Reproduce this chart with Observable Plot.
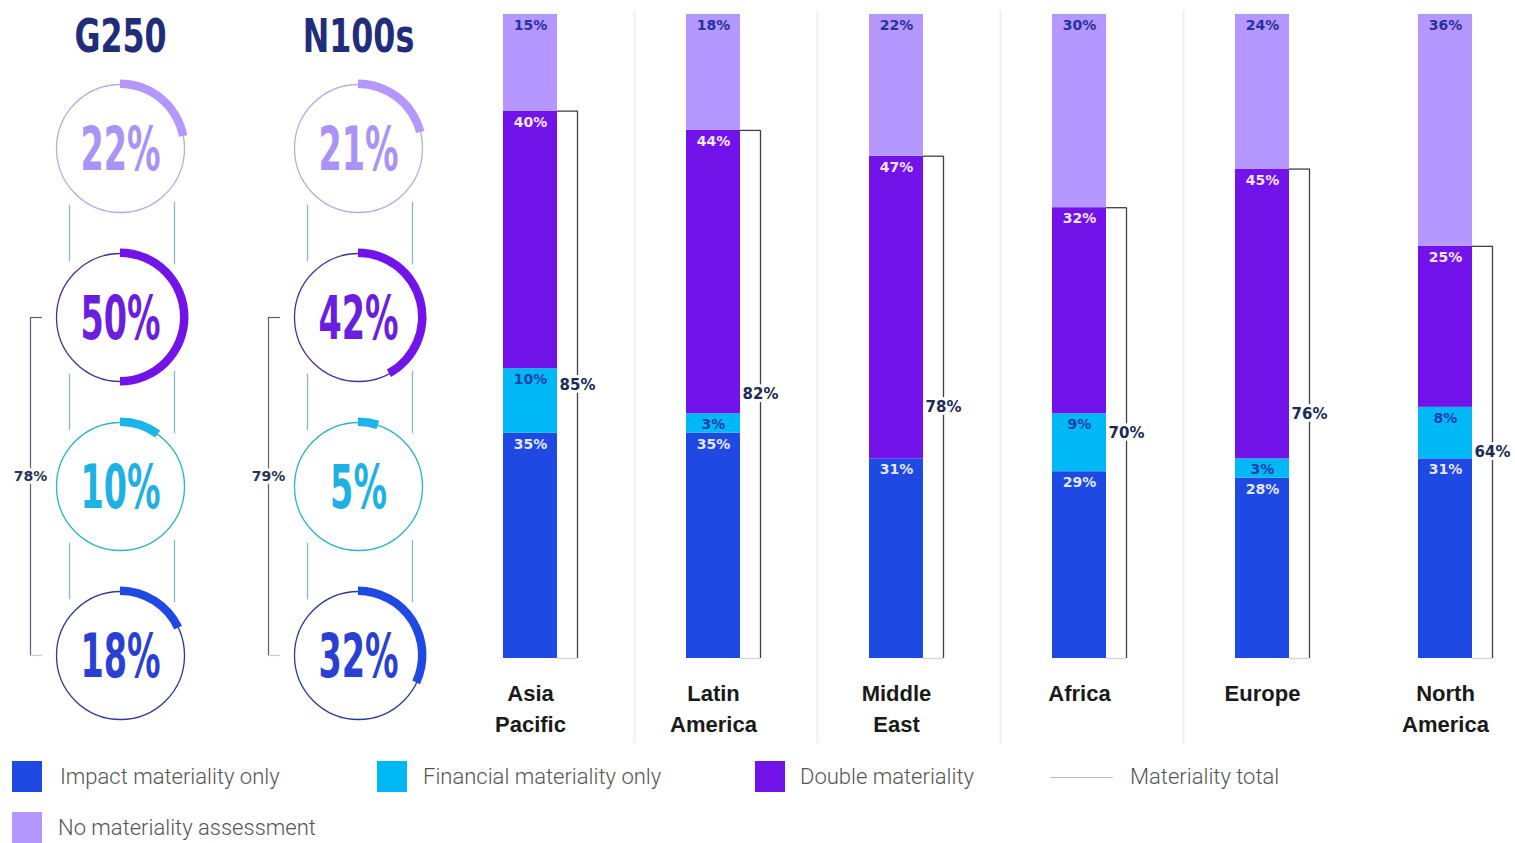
<!DOCTYPE html>
<html>
<head>
<meta charset="utf-8">
<script src="https://cdn.jsdelivr.net/npm/d3@7"></script>
<script src="https://cdn.jsdelivr.net/npm/@observablehq/plot@0.6"></script>
<style>
  html, body { margin: 0; padding: 0; background: #fff; }
  body { width: 1515px; height: 843px; overflow: hidden; position: relative; }
  #charts { display: flex; flex-direction: row; width: 1515px; height: 745px; }
  #legend { position: relative; width: 1515px; height: 98px; font-family: Roboto, "Open Sans", sans-serif; font-weight: 300; font-size: 22px; color: #555; }
  .lg-sw { position: absolute; width: 30px; height: 31px; }
  .lg-tx { position: absolute; line-height: 31px; white-space: nowrap; }
  .lg-line { position: absolute; height: 0; border-top: 1.5px solid #b9bcc4; }
</style>
</head>
<body>
<div id="charts"><div id="left"></div><div id="right"></div></div>
<div id="legend"></div>
<script>
// ---------- data ----------
const categories = ["impact", "financial", "double", "none"];
const categoryLabels = ["Impact materiality only", "Financial materiality only", "Double materiality", "No materiality assessment"];
const colors = ["#1e49e2", "#00b8f5", "#7213ea", "#b497ff"];
const segmentLabelColors = ["#e4e6ff", "#1f3fae", "#f4e6ff", "#28319c"];

const regions = ["Asia Pacific", "Latin America", "Middle East", "Africa", "Europe", "North America"];
const regionLabels = ["Asia\nPacific", "Latin\nAmerica", "Middle\nEast", "Africa", "Europe", "North\nAmerica"];
const impactOnly = [35, 35, 31, 29, 28, 31];
const financialOnly = [10, 3, 0, 9, 3, 8];
const doubleMateriality = [40, 44, 47, 32, 45, 25];
const noAssessment = [15, 18, 22, 30, 24, 36];
const regionTotals = [85, 82, 78, 70, 76, 64];

const groups = ["G250", "N100s"];
const circleOrder = ["none", "double", "financial", "impact"];
const groupNone = [22, 21];
const groupDouble = [50, 42];
const groupFinancial = [10, 5];
const groupImpact = [18, 32];
const groupTotals = [78, 79];

const arcColors = {none: "#b497ff", double: "#7213ea", financial: "#1cb4ea", impact: "#1e49e2"};
const outlineColors = {none: "#b9abe6", double: "#4d2f93", financial: "#2bb3c9", impact: "#2b3a9c"};
const circleTextColors = {none: "#ab92f6", double: "#6a1fe0", financial: "#1fb0e4", impact: "#2a40d2"};

// ---------- tables ----------
const seriesByCategory = {impact: impactOnly, financial: financialOnly, double: doubleMateriality, none: noAssessment};
const rows = regions.flatMap((r, i) => categories.map(c => ({region: r, category: c, value: seriesByCategory[c][i]})));
const totalsData = regions.map((r, i) => ({region: r, total: regionTotals[i]}));

const groupSeries = {none: groupNone, double: groupDouble, financial: groupFinancial, impact: groupImpact};
const circles = groups.flatMap((g, i) => circleOrder.map(c => ({group: g, category: c, value: groupSeries[c][i]})));
const bracketData = groups.map((g, i) => ({group: g, from: "double", to: "impact", mid: "financial", total: groupTotals[i]}));

// ---------- left panel: G250 / N100s circles ----------
const left = Plot.plot({
  width: 470, height: 745,
  marginLeft: 120, marginRight: 112, marginTop: 148, marginBottom: 90,
  x: {type: "point", domain: groups, padding: 0, axis: null},
  y: {type: "point", domain: circleOrder, padding: 0, axis: null},
  style: {background: "white", overflow: "visible"},
  marks: [
    Plot.ruleX(groups, {x: d => d, dx: -51, stroke: "#86b9c2", strokeWidth: 1.3, insetTop: 40, insetBottom: 40}),
    Plot.ruleX(groups, {x: d => d, dx: 54, stroke: "#86b9c2", strokeWidth: 1.3, insetTop: 40, insetBottom: 40}),
    Plot.dot(circles, {x: "group", y: "category", r: 76, fill: "white"}),
    Plot.dot(circles, {x: "group", y: "category", r: 64, fill: "white", stroke: d => outlineColors[d.category], strokeWidth: 1.3}),
    (index, scales) => {
      const g = d3.create("svg:g");
      const arc = d3.arc().innerRadius(60).outerRadius(68.5);
      for (const d of circles) {
        g.append("path")
          .attr("transform", `translate(${scales.x(d.group)},${scales.y(d.category)})`)
          .attr("d", arc({startAngle: 0, endAngle: 2 * Math.PI * d.value / 100}))
          .attr("fill", arcColors[d.category]);
      }
      return g.node();
    },
    Plot.text(circles, {x: "group", y: "category", text: d => d.value + "%", fill: d => circleTextColors[d.category],
      fontSize: 60, fontWeight: "bold", fontFamily: "Liberation Sans Narrow, DejaVu Sans Condensed, sans-serif", dy: 2}),
    Plot.ruleX(bracketData, {x: "group", y1: "from", y2: "to", dx: -90, stroke: "#59606f", strokeWidth: 1.2}),
    Plot.ruleY(bracketData, {y: "from", x1: "group", x2: "group", dx: -90, insetRight: -12, stroke: "#59606f", strokeWidth: 1.2}),
    Plot.ruleY(bracketData, {y: "to", x1: "group", x2: "group", dx: -90, insetRight: -12, stroke: "#c9ccd3", strokeWidth: 1.2}),
    Plot.text(bracketData, {x: "group", y: "mid", dx: -90, dy: -10, text: d => d.total + "%", fill: "#2a3358",
      stroke: "white", strokeWidth: 6, fontSize: 14, fontWeight: "bold", fontFamily: "DejaVu Sans, sans-serif"}),
    Plot.text(groups, {x: d => d, text: d => d, frameAnchor: "top", lineAnchor: "middle", dy: -112, fill: "#1f2d7b",
      fontSize: 47, fontWeight: "bold", fontFamily: "Liberation Sans Narrow, DejaVu Sans Condensed, sans-serif"})
  ]
});
document.getElementById("left").appendChild(left);

// condense the display numerals
d3.select(left).selectAll("g[font-size='60'] text").each(function() {
  const w = this.getComputedTextLength();
  this.setAttribute("textLength", w * 0.62);
  this.setAttribute("lengthAdjust", "spacingAndGlyphs");
});
d3.select(left).selectAll("g[font-size='47'] text").each(function() {
  const w = this.getComputedTextLength();
  this.setAttribute("textLength", w * 0.75);
  this.setAttribute("lengthAdjust", "spacingAndGlyphs");
});

// ---------- right panel: regional stacked bars ----------
const right = Plot.plot({
  width: 1045, height: 745,
  marginLeft: 33, marginRight: 43, marginTop: 14, marginBottom: 87,
  x: {domain: regions, paddingInner: 0.705, paddingOuter: 0, axis: null, label: null},
  y: {domain: [0, 100], axis: null},
  color: {domain: categories, range: colors},
  style: {background: "white", overflow: "visible", fontFamily: "DejaVu Sans, sans-serif"},
  marks: [
    Plot.ruleX(regions.slice(0, 4), {x: d => d, dx: 104, stroke: "#efefef", strokeWidth: 2, insetTop: -4, insetBottom: -85}),
    Plot.barY(rows, {x: "region", y: "value", fill: "category", order: categories}),
    ...categories.map((c, j) => Plot.text(rows, Plot.stackY2({
      x: "region", y: "value", z: "category", order: categories,
      text: d => (d.category === c && d.value > 0) ? d.value + "%" : "",
      fill: segmentLabelColors[j], dy: 11, fontSize: 14, fontWeight: "bold"
    }))),
    Plot.ruleX(totalsData, {x: "region", y1: 0, y2: "total", dx: 47, stroke: "#3d414c", strokeWidth: 1.3}),
    Plot.tickY(totalsData, {x: "region", y: "total", dx: 20, insetLeft: 34, stroke: "#3d414c", strokeWidth: 1.3}),
    Plot.tickY(totalsData, {x: "region", y: 0, dx: 20, insetLeft: 34, stroke: "#cfd3da", strokeWidth: 1.2}),
    Plot.text(totalsData, {x: "region", y: d => d.total / 2, text: d => d.total + "%", dx: 47,
      fill: "#1d2a55", stroke: "white", strokeWidth: 6, fontSize: 15, fontWeight: "bold"}),
    Plot.axisX({tickSize: 0, tickPadding: 20, label: null, tickFormat: d => regionLabels[regions.indexOf(d)],
      fontSize: 22, fontWeight: "bold", lineHeight: 1.41, color: "#1a1a1a",
      fontFamily: "Liberation Sans, Arial, sans-serif"})
  ]
});
document.getElementById("right").appendChild(right);

// ---------- legend ----------
const legend = d3.select("#legend");
const legendItems = [
  {label: categoryLabels[0], color: colors[0], sx: 12, tx: 60, top: 16},
  {label: categoryLabels[1], color: colors[1], sx: 377, tx: 423, top: 16},
  {label: categoryLabels[2], color: colors[2], sx: 755, tx: 800, top: 16},
  {label: categoryLabels[3], color: colors[3], sx: 12, tx: 58, top: 67}
];
for (const it of legendItems) {
  legend.append("div").attr("class", "lg-sw").style("left", it.sx + "px").style("top", it.top + "px").style("background", it.color);
  legend.append("div").attr("class", "lg-tx").style("left", it.tx + "px").style("top", it.top + "px").text(it.label);
}
legend.append("div").attr("class", "lg-line").style("left", "1050px").style("width", "63px").style("top", "32px");
legend.append("div").attr("class", "lg-tx").style("left", "1130px").style("top", "16px").text("Materiality total");
</script>
</body>
</html>
